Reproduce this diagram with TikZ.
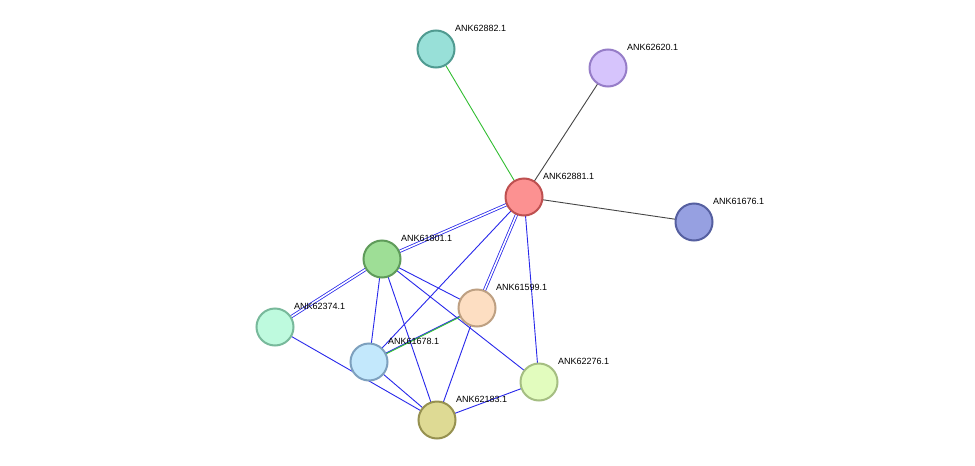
\documentclass[tikz,border=0pt]{standalone}
\usepackage{fontspec}
\setmainfont{Liberation Sans}
\usetikzlibrary{backgrounds}
\definecolor{fa}{HTML}{98E0D8}\definecolor{da}{HTML}{509B91}
\definecolor{fb}{HTML}{D6C4FC}\definecolor{db}{HTML}{967DC8}
\definecolor{fc}{HTML}{FC9191}\definecolor{dc}{HTML}{BE5050}
\definecolor{fd}{HTML}{96A0E1}\definecolor{dd}{HTML}{555FA0}
\definecolor{ff}{HTML}{9EDE96}\definecolor{df}{HTML}{5F9B5A}
\definecolor{fg}{HTML}{FDDEC2}\definecolor{dg}{HTML}{BEA082}
\definecolor{fh}{HTML}{BEFADE}\definecolor{dh}{HTML}{78B99B}
\definecolor{fi}{HTML}{C3E8FC}\definecolor{di}{HTML}{7DA0BE}
\definecolor{fj}{HTML}{E2FCBE}\definecolor{dj}{HTML}{A5BE82}
\definecolor{fk}{HTML}{DEDA94}\definecolor{dk}{HTML}{969150}
\definecolor{eblue}{HTML}{2828EB}\definecolor{egreen}{HTML}{32BE32}\definecolor{egray}{HTML}{464646}
\begin{document}
\begin{tikzpicture}[x=1pt,y=-1pt,
  prot/.style={circle,minimum size=37pt,inner sep=0pt,line width=2pt},
  lab/.style={anchor=west,font=\fontsize{9}{10}\selectfont,inner sep=0pt},
  e/.style={draw=eblue,line width=0.9pt},
  ee/.style={draw=eblue,double=white,double distance=1.6pt,line width=0.8pt},
  eg/.style={draw=egreen,line width=0.9pt},
  ek/.style={draw=egray,line width=0.9pt}]
\useasboundingbox (0,0) rectangle (975,466);
\newcommand\prt[4]{\node[prot,fill=f#1,draw=d#1] (#1) at #2 {}; \node[lab] at ([shift={(19,-21)}]#1.center) {#3};}
\prt{a}{(436,49)}{ANK62882.1}{}
\prt{b}{(608,68)}{ANK62620.1}{}
\prt{c}{(524,197)}{ANK62881.1}{}
\prt{d}{(694,222)}{ANK61676.1}{}
\prt{f}{(382,259)}{ANK61801.1}{}
\prt{g}{(477,308)}{ANK61599.1}{}
\prt{h}{(275,327)}{ANK62374.1}{}
\prt{i}{(369,362)}{ANK61678.1}{}
\prt{j}{(539,382)}{ANK62276.1}{}
\prt{k}{(437,420)}{ANK62183.1}{}
\begin{pgfonlayer}{background}
\fill[white] (0,0) rectangle (975,466);
\draw[eg] (c.center)--(a.center);
\draw[ek] (c.center)--(b.center);
\draw[ek] (c.center)--(d.center);
\draw[ee] (c.center)--(f.center);
\draw[ee] (c.center)--(g.center);
\draw[e] (c.center)--(i.center);
\draw[e] (c.center)--(j.center);
\draw[ee] (f.center)--(h.center);
\draw[e] (f.center)--(i.center);
\draw[e] (f.center)--(k.center);
\draw[e] (f.center)--(g.center);
\draw[e] (f.center)--(j.center);
\draw[e] (h.center)--(k.center);
\draw[e,transform canvas={shift={(0.8pt,0.8pt)}}] (i.center)--(g.center);
\draw[eg,transform canvas={shift={(-0.8pt,-0.8pt)}}] (i.center)--(g.center);
\draw[e] (i.center)--(k.center);
\draw[e] (g.center)--(k.center);
\draw[e] (j.center)--(k.center);
\end{pgfonlayer}
\end{tikzpicture}
\end{document}
